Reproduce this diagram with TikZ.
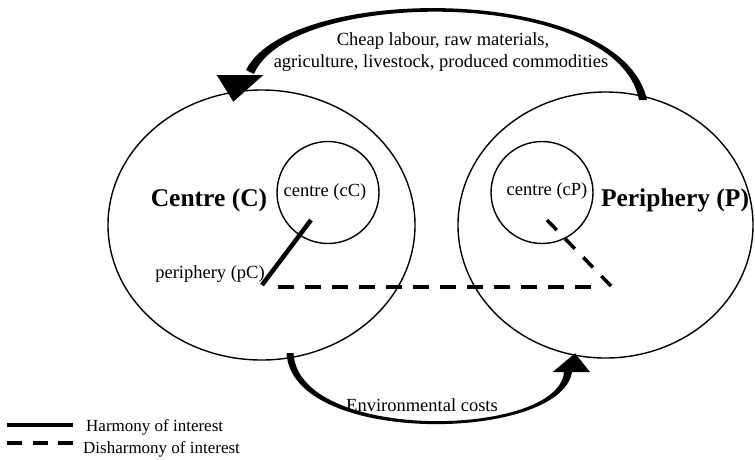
\documentclass[tikz,border=0pt]{standalone}
\usepackage{fontspec}
\setmainfont{Liberation Serif}
\usetikzlibrary{shapes.geometric}
\begin{document}
\begin{tikzpicture}[x=1pt,y=-1pt,
  bigell/.style={draw, ellipse, line width=1.4pt, inner sep=0pt},
  smallcirc/.style={draw, circle, line width=1.4pt, inner sep=0pt, minimum size=102pt},
  lab/.style={font=\fontsize{18.5}{21}\selectfont, inner sep=0pt, anchor=base},
  bigtitle/.style={font=\fontsize{25.5}{28}\selectfont\bfseries, inner sep=0pt, anchor=base},
  leg/.style={font=\fontsize{17}{20}\selectfont, inner sep=0pt, anchor=base west},
  harm/.style={line width=4.5pt},
  disharm/.style={line width=3.5pt, dash pattern=on 16pt off 11pt},
  legdash/.style={line width=4pt, dash pattern=on 15pt off 10.5pt},
]
\useasboundingbox (0,0) rectangle (755,459);

% big ellipses
\node[bigell, minimum width=307pt, minimum height=270pt] (C) at (261.5,225) {};
\node[bigell, minimum width=295pt, minimum height=266pt] (P) at (605.5,225) {};

% small circles
\node[smallcirc] (cC) at (328,192.5) {};
\node[smallcirc] (cP) at (542,192.5) {};

% labels
\node[bigtitle] (tC) at (209,206.5) {Centre (C)};
\node[bigtitle] (tP) at (675,206.5) {Periphery (P)};
\node[lab] (tcC) at (325,196) {centre (cC)};
\node[lab] (tcP) at (547,195) {centre (cP)};
\node[lab] (tpC) at (210,278) {periphery (pC)};

% harmony / disharmony lines
\coordinate (pCend) at (262,285);
\coordinate (cCend) at (311,220);
\coordinate (hStart) at (278,287);
\coordinate (hEnd) at (598,287);
\coordinate (cPend) at (547,220);
\coordinate (dEnd) at (612,287);
\draw[harm] (pCend) -- (cCend);
\draw[disharm] (hStart) -- (hEnd);
\draw[line width=3.5pt, dash pattern=on 14pt off 12pt] (cPend) -- (dEnd);

% top arrow: Periphery -> Centre
\fill (647,100) .. controls (622,-17) and (289,-17) .. (246,70)
  -- (254,74) .. controls (291,-13) and (618,-13) .. (639,100) -- cycle;
\fill (216.7,75) -- (263.3,75) -- (233.3,101.7) -- cycle;
\node[lab] (top1) at (443,45) {Cheap labour, raw materials,};
\node[lab] (top2) at (441,67) {agriculture, livestock, produced commodities};

% bottom arrow: Centre -> Periphery
\fill (286.5,353) .. controls (292,447) and (561,442) .. (572,372)
  -- (564,372) .. controls (559,438) and (298,443) .. (293.5,353) -- cycle;
\fill (552.7,372) -- (590,372) -- (575,353.3) -- cycle;
\node[lab] (env) at (422,411) {Environmental costs};

% legend
\coordinate (l1a) at (7,425);
\coordinate (l1b) at (73,425);
\coordinate (l2a) at (7,443);
\coordinate (l2b) at (73,443);
\draw[line width=4pt] (l1a) -- (l1b);
\draw[legdash] (l2a) -- (l2b);
\node[leg] (leg1) at (86,431) {Harmony of interest};
\node[leg] (leg2) at (83,453) {Disharmony of interest};
\end{tikzpicture}
\end{document}
